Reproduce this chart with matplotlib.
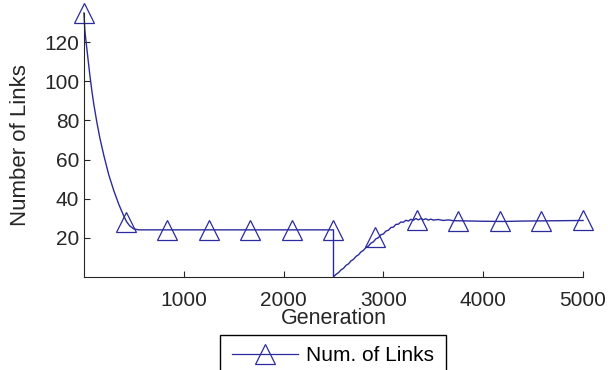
import numpy as np
import matplotlib
matplotlib.use('Agg')
import matplotlib.pyplot as plt
from matplotlib.lines import Line2D

plt.rcParams['font.family'] = ['Liberation Sans', 'DejaVu Sans']

# ---- data ----
gen = [0, 10, 20, 40, 60, 80, 100, 130, 160, 200, 250, 300, 350, 400, 430, 460, 500, 550,
       2500, 2500, 2525, 2550, 2575, 2600, 2625, 2650, 2675, 2700, 2725, 2750, 2775,
       2800, 2825, 2850, 2875, 2900, 2925, 2950, 2975, 3000, 3025, 3050, 3075, 3100,
       3125, 3150, 3175, 3200, 3225, 3250, 3275, 3300, 3325, 3350, 3375, 3400, 3425,
       3450, 3475, 3500, 3550, 3600, 3650, 3700, 3800, 3900, 4000, 4200, 4400, 4600,
       4800, 5000]
links = [135, 126, 121, 112, 103, 95, 88, 79, 71, 62, 52, 44, 37, 31, 28, 26, 24.5, 24,
         24, 0, 1.2, 2.1, 3.5, 4.3, 5.8, 6.6, 8.1, 8.9, 10.4, 11.2, 12.7,
         13.5, 15.0, 15.7, 17.2, 17.9, 19.4, 20.0, 21.5, 21.9, 23.4, 23.8, 25.2, 25.4,
         26.8, 26.9, 28.0, 27.9, 28.9, 28.5, 29.4, 28.9, 29.8, 29.1, 29.8, 29.2, 29.7,
         29.0, 29.5, 29.0, 29.3, 28.8, 29.1, 28.7, 28.6, 28.5, 28.4, 28.3, 28.5, 28.6,
         28.7, 28.8]

marker_gen = [0, 417, 833, 1250, 1667, 2083, 2500, 2917, 3333, 3750, 4167, 4583, 5000]
marker_val = [135, 28, 24, 24, 24, 24, 24, 20.5, 29, 28.7, 28.4, 28.5, 29]

xticks = [1000, 2000, 3000, 4000, 5000]
yticks = [20, 40, 60, 80, 100, 120]

col = '#2b2b9e'
fig = plt.figure(figsize=(6.08, 3.70), dpi=100)
ax = fig.add_axes([0.138, 0.252, 0.821, 0.713])

ax.plot(gen, links, color=col, linewidth=1.0, clip_on=False)
ax.plot(marker_gen, marker_val, linestyle='none', marker='^', markersize=14,
        markerfacecolor='none', markeredgecolor=col, markeredgewidth=0.9, clip_on=False)

ax.set_xlim(0, 5000)
ax.set_ylim(0, 135)
ax.set_xticks(xticks)
ax.set_yticks(yticks)
ax.tick_params(direction='in', length=4, labelsize=15, colors='#262626')
ax.tick_params(axis='x', pad=10)
for s in ['top', 'right']:
    ax.spines[s].set_visible(False)
for s in ['left', 'bottom']:
    ax.spines[s].set_color('#262626')
ax.set_xlabel('Generation', fontsize=15.5, color='#262626', labelpad=-1)
ax.set_ylabel('Number of Links', fontsize=16, color='#262626', labelpad=9)

handle = Line2D([], [], color=col, linewidth=0.9, marker='^', markersize=14,
                markerfacecolor='none', markeredgecolor=col, markeredgewidth=0.9)
leg = fig.legend([handle], ['Num. of Links'], loc='upper center',
                 bbox_to_anchor=(333 / 608, (370 - 335) / 370), fontsize=15,
                 handlelength=3.2, fancybox=False, framealpha=1, edgecolor='black',
                 borderpad=0.55, handletextpad=0.4, borderaxespad=0)
leg.get_frame().set_linewidth(1.0)

fig.savefig('out.png', dpi=100)
